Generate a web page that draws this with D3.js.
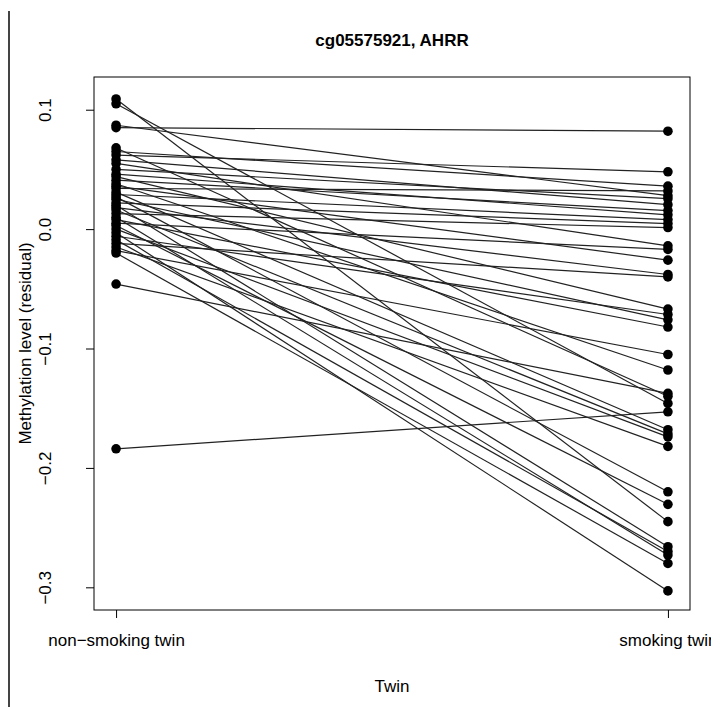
<!DOCTYPE html>
<html>
<head>
<meta charset="utf-8">
<script src="https://cdn.jsdelivr.net/npm/d3@7"></script>
<style>
body { margin: 0; background: #fff; }
svg { display: block; }
text { font-family: "Liberation Sans", Arial, sans-serif; fill: #000; }
</style>
</head>
<body>
<svg id="chart" width="711" height="707"></svg>
<script>
// one entry per twin pair: nonSmoking[i] is linked to smoking[i]
var groups = ["non\u2212smoking twin", "smoking twin"];
var nonSmoking = [0.085, 0.087, 0.109, 0.105, 0.062, 0.065, 0.058, 0.055, 0.050, 0.046,
                  0.044, 0.041, 0.038, 0.036, 0.034, 0.031, 0.029, 0.027, 0.025, 0.022,
                  0.020, 0.018, 0.016, 0.013, 0.010, 0.008, 0.005, 0.003, 0.000, -0.003,
                  -0.006, -0.009, -0.012, -0.015, -0.018, -0.020, -0.046, -0.184, 0.068];
var smoking = [0.082, 0.028, -0.245, -0.146, 0.048, 0.036, 0.0205, -0.014, 0.0255, 0.012,
               -0.067, 0.0155, -0.118, -0.026, 0.032, -0.168, 0.008, -0.220, -0.076, 0.0046,
               -0.266, -0.038, -0.1715, 0.0013, -0.273, -0.082, -0.017, -0.2305, -0.174, -0.303,
               -0.0715, -0.270, -0.040, -0.182, -0.105, -0.280, -0.1376, -0.153, -0.140];
var yTicks = [-0.3, -0.2, -0.1, 0.0, 0.1];

var svg = d3.select("#chart"),
    box = {left: 94, right: 690, top: 77, bottom: 610};

var x = d3.scaleLinear().domain([0.96, 2.04]).range([box.left, box.right]),
    y = d3.scaleLinear().domain([-0.319, 0.1274]).range([box.bottom, box.top]);

var pairs = nonSmoking.map(function(d, i) {
    return {a: d, b: smoking[i]};
});

// stray border line at the far left
svg.append("line")
    .attr("x1", 9).attr("x2", 9)
    .attr("y1", 11).attr("y2", 707)
    .attr("stroke", "#444")
    .attr("stroke-width", 2);

svg.append("text")
    .attr("x", (box.left + box.right) / 2)
    .attr("y", 46)
    .attr("text-anchor", "middle")
    .style("font-weight", "bold")
    .style("font-size", "17px")
    .text("cg05575921, AHRR");

svg.selectAll(".pair")
    .data(pairs)
    .enter().append("line")
    .attr("class", "pair")
    .attr("x1", x(1)).attr("x2", x(2))
    .attr("y1", function(d) { return y(d.a); })
    .attr("y2", function(d) { return y(d.b); })
    .attr("stroke", "#222")
    .attr("stroke-width", 1.2);

var pts = [];
pairs.forEach(function(d) {
    pts.push({g: 1, v: d.a});
    pts.push({g: 2, v: d.b});
});

svg.selectAll(".pt")
    .data(pts)
    .enter().append("circle")
    .attr("class", "pt")
    .attr("cx", function(d) { return x(d.g); })
    .attr("cy", function(d) { return y(d.v); })
    .attr("r", 4.8)
    .attr("fill", "#000");

svg.append("rect")
    .attr("x", box.left).attr("y", box.top)
    .attr("width", box.right - box.left)
    .attr("height", box.bottom - box.top)
    .attr("fill", "none")
    .attr("stroke", "#000")
    .attr("stroke-width", 1);

var yAxis = svg.append("g")
    .attr("transform", "translate(" + box.left + ",0)")
    .call(d3.axisLeft(y).tickValues(yTicks).tickFormat(d3.format(".1f")).tickSizeOuter(0).tickSize(8));
yAxis.select(".domain").remove();
yAxis.selectAll("line").attr("stroke", "#000");
yAxis.selectAll("text")
    .attr("x", null).attr("dy", null)
    .attr("transform", "translate(-43,0) rotate(-90)")
    .attr("text-anchor", "middle")
    .style("font-size", "17px");

var xAxis = svg.append("g")
    .attr("transform", "translate(0," + box.bottom + ")")
    .call(d3.axisBottom(x).tickValues([1, 2]).tickFormat(function(d) { return groups[d - 1]; }).tickSizeOuter(0).tickSize(8));
xAxis.select(".domain").remove();
xAxis.selectAll("line").attr("stroke", "#000");
xAxis.selectAll("text")
    .attr("y", 36).attr("dy", null)
    .style("font-size", "17px");

svg.append("text")
    .attr("x", (box.left + box.right) / 2)
    .attr("y", 692)
    .attr("text-anchor", "middle")
    .style("font-size", "17px")
    .text("Twin");

svg.append("text")
    .attr("transform", "translate(31," + ((box.top + box.bottom) / 2) + ") rotate(-90)")
    .attr("text-anchor", "middle")
    .style("font-size", "17px")
    .text("Methylation level (residual)");
</script>
</body>
</html>
